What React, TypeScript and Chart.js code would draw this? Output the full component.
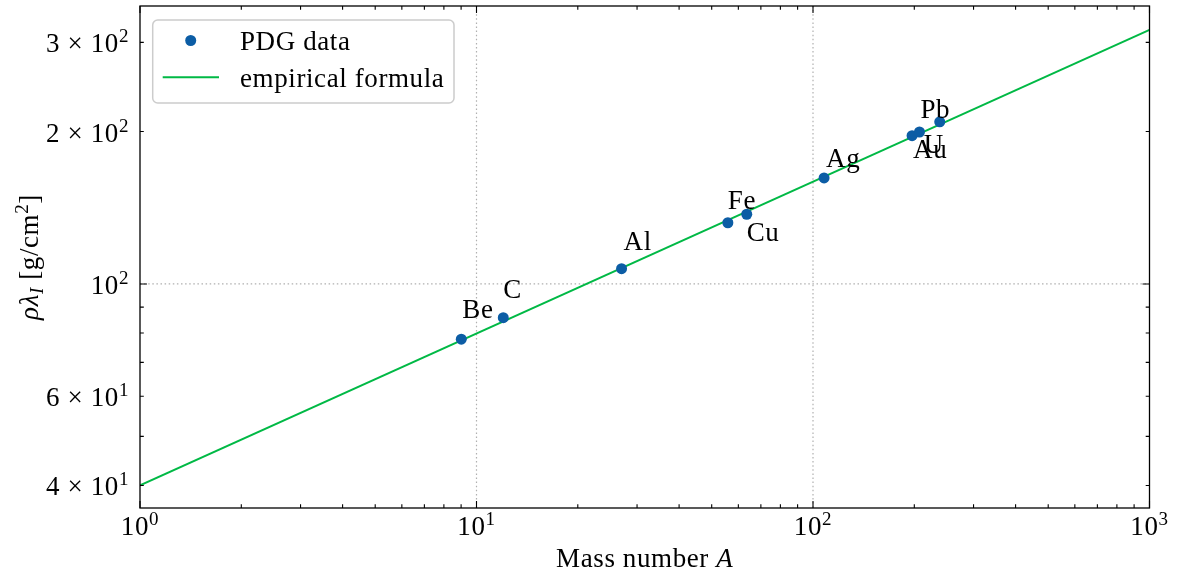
import React, { useEffect, useRef } from 'react';
import { Chart, registerables } from 'chart.js';

Chart.register(...registerables);

// PDG nuclear interaction lengths
const elements = ['Be', 'C', 'Al', 'Fe', 'Cu', 'Ag', 'Au', 'Pb', 'U'];
const massNumbers = [9.012, 12.011, 26.982, 55.845, 63.546, 107.87, 196.97, 207.2, 238.03];
const interactionLengths = [77.8, 85.8, 107.2, 132.1, 137.3, 162.0, 196.3, 199.6, 209.0];
// label placement relative to each marker (left edge, baseline), px
const labelOffsets: [number, number][] = [
  [1, -21], [0, -20], [2, -19], [0, -14], [0, 27], [2, -11], [1, 22], [1, -14], [-16, 31],
];

// empirical formula line end points
const formulaA = [1, 1000];
const formulaLambda = [40, 317.7];

const xLimits = [1, 1000];
const yLimits = [36.1, 354];

const xTickValues = [1, 10, 100, 1000];
const xTickLabels: [string, string][] = [['10', '0'], ['10', '1'], ['10', '2'], ['10', '3']];
const yTickValues = [40, 60, 100, 200, 300];
const yTickLabels: [string, string][] = [
  ['4 × 10', '1'], ['6 × 10', '1'], ['10', '2'], ['2 × 10', '2'], ['3 × 10', '2'],
];
const xGridValues = [10, 100];
const yGridValues = [100];

const BLUE = '#0C5DA5';
const GREEN = '#00B945';
const FONT = "'Liberation Serif', 'Times New Roman', serif";
const SIZE = 27;
const SUB = 19;
const SPACING = '0.6px';

type Run = { t: string; size: number; italic?: boolean; rise?: number };

function setFont(ctx: CanvasRenderingContext2D, r: Run) {
  ctx.font = `${r.italic ? 'italic ' : ''}${r.size}px ${FONT}`;
}
function runsWidth(ctx: CanvasRenderingContext2D, runs: Run[]) {
  let w = 0;
  for (const r of runs) {
    setFont(ctx, r);
    w += ctx.measureText(r.t).width;
  }
  return w;
}
function drawRuns(ctx: CanvasRenderingContext2D, runs: Run[], x: number, y: number) {
  let cx = x;
  ctx.textBaseline = 'alphabetic';
  ctx.textAlign = 'left';
  for (const r of runs) {
    setFont(ctx, r);
    ctx.fillText(r.t, cx, y - (r.rise || 0));
    cx += ctx.measureText(r.t).width;
  }
}
function powerRuns(label: [string, string]): Run[] {
  return [
    { t: label[0], size: SIZE },
    { t: label[1], size: SUB, rise: 10 },
  ];
}

function minorValues(lo: number, hi: number) {
  const out: number[] = [];
  for (let e = Math.floor(Math.log10(lo)); e <= Math.ceil(Math.log10(hi)); e++) {
    for (let m = 1; m < 10; m++) {
      const v = m * Math.pow(10, e);
      if (v >= lo && v <= hi) out.push(v);
    }
  }
  return out;
}

const axesPlugin = {
  id: 'scienceAxes',
  beforeDatasetsDraw(chart: any) {
    const { ctx, chartArea: a, scales } = chart;
    ctx.save();
    ctx.strokeStyle = '#b0b0b0';
    ctx.lineWidth = 1.2;
    ctx.setLineDash([1.5, 2.6]);
    for (const v of xGridValues) {
      const x = scales.x.getPixelForValue(v);
      ctx.beginPath();
      ctx.moveTo(x, a.top);
      ctx.lineTo(x, a.bottom);
      ctx.stroke();
    }
    for (const v of yGridValues) {
      const y = scales.y.getPixelForValue(v);
      ctx.beginPath();
      ctx.moveTo(a.left, y);
      ctx.lineTo(a.right, y);
      ctx.stroke();
    }
    ctx.restore();
  },
  afterDatasetsDraw(chart: any) {
    const { ctx, chartArea: a, scales } = chart;
    const xs = scales.x;
    const ys = scales.y;
    ctx.save();
    (ctx as any).letterSpacing = SPACING;
    ctx.fillStyle = '#000';

    // element labels
    ctx.font = `${SIZE}px ${FONT}`;
    ctx.textBaseline = 'alphabetic';
    ctx.textAlign = 'left';
    elements.forEach((name, i) => {
      const px = xs.getPixelForValue(massNumbers[i]);
      const py = ys.getPixelForValue(interactionLengths[i]);
      ctx.fillText(name, px + labelOffsets[i][0], py + labelOffsets[i][1]);
    });

    // frame
    ctx.strokeStyle = '#000';
    ctx.lineWidth = 1.3;
    ctx.strokeRect(a.left, a.top, a.right - a.left, a.bottom - a.top);

    // inward ticks on all four sides
    const MAJ = 7;
    const MIN = 3.8;
    ctx.lineWidth = 1.1;
    const xMaj = xTickValues;
    for (const v of minorValues(xLimits[0], xLimits[1])) {
      const isMaj = xMaj.includes(v);
      const len = isMaj ? MAJ : MIN;
      const x = xs.getPixelForValue(v);
      ctx.beginPath();
      ctx.moveTo(x, a.bottom);
      ctx.lineTo(x, a.bottom - len);
      ctx.moveTo(x, a.top);
      ctx.lineTo(x, a.top + len);
      ctx.stroke();
    }
    for (const v of minorValues(yLimits[0], yLimits[1])) {
      const isMaj = Math.abs(Math.log10(v) - Math.round(Math.log10(v))) < 1e-9;
      const len = isMaj ? MAJ : MIN;
      const y = ys.getPixelForValue(v);
      ctx.beginPath();
      ctx.moveTo(a.left, y);
      ctx.lineTo(a.left + len, y);
      ctx.moveTo(a.right, y);
      ctx.lineTo(a.right - len, y);
      ctx.stroke();
    }

    // tick labels
    xTickValues.forEach((v, i) => {
      const runs = powerRuns(xTickLabels[i]);
      const w = runsWidth(ctx, runs);
      const x = xs.getPixelForValue(v);
      drawRuns(ctx, runs, x - w / 2, a.bottom + 27);
    });
    yTickValues.forEach((v, i) => {
      const runs = powerRuns(yTickLabels[i]);
      const w = runsWidth(ctx, runs);
      const y = ys.getPixelForValue(v);
      drawRuns(ctx, runs, a.left - 11 - w, y + 10);
    });

    // axis titles
    const xTitle: Run[] = [
      { t: 'Mass number ', size: SIZE },
      { t: 'A', size: SIZE, italic: true },
    ];
    const xw = runsWidth(ctx, xTitle);
    drawRuns(ctx, xTitle, (a.left + a.right) / 2 - xw / 2, 566.5);

    const yTitle: Run[] = [
      { t: 'ρλ', size: SIZE, italic: true },
      { t: 'I', size: SUB, italic: true, rise: -5 },
      { t: ' [g/cm', size: SIZE },
      { t: '2', size: SUB, rise: 10 },
      { t: ']', size: SIZE },
    ];
    const yw = runsWidth(ctx, yTitle);
    ctx.save();
    ctx.translate(38, (a.top + a.bottom) / 2);
    ctx.rotate(-Math.PI / 2);
    drawRuns(ctx, yTitle, -yw / 2, 0);
    ctx.restore();

    // legend
    const ds = chart.data.datasets;
    const bx = 152.7, by = 20, bw = 301.3, bh = 83, r = 5;
    ctx.beginPath();
    ctx.moveTo(bx + r, by);
    ctx.arcTo(bx + bw, by, bx + bw, by + bh, r);
    ctx.arcTo(bx + bw, by + bh, bx, by + bh, r);
    ctx.arcTo(bx, by + bh, bx, by, r);
    ctx.arcTo(bx, by, bx + bw, by, r);
    ctx.closePath();
    ctx.fillStyle = 'rgba(255,255,255,0.8)';
    ctx.fill();
    ctx.strokeStyle = '#cccccc';
    ctx.lineWidth = 1.5;
    ctx.stroke();

    ctx.fillStyle = BLUE;
    ctx.beginPath();
    ctx.arc(190.7, 40.5, 5.5, 0, Math.PI * 2);
    ctx.fill();
    ctx.strokeStyle = GREEN;
    ctx.lineWidth = 2;
    ctx.beginPath();
    ctx.moveTo(162.7, 77.3);
    ctx.lineTo(219, 77.3);
    ctx.stroke();

    ctx.fillStyle = '#000';
    ctx.font = `${SIZE}px ${FONT}`;
    ctx.textBaseline = 'alphabetic';
    ctx.textAlign = 'left';
    ctx.fillText(ds[0].label, 240, 50);
    ctx.fillText(ds[1].label, 240, 86.5);
    ctx.restore();
  },
};

export default function App() {
  const canvasRef = useRef<HTMLCanvasElement | null>(null);

  useEffect(() => {
    const canvas = canvasRef.current;
    if (!canvas) return;
    const chart = new Chart(canvas, {
      type: 'scatter',
      data: {
        datasets: [
          {
            label: 'PDG data',
            data: massNumbers.map((a, i) => ({ x: a, y: interactionLengths[i] })),
            backgroundColor: BLUE,
            borderColor: BLUE,
            pointRadius: 5.5,
            pointBorderWidth: 0,
            showLine: false,
          },
          {
            label: 'empirical formula',
            data: formulaA.map((a, i) => ({ x: a, y: formulaLambda[i] })),
            borderColor: GREEN,
            backgroundColor: GREEN,
            borderWidth: 2,
            pointRadius: 0,
            showLine: true,
          },
        ],
      },
      options: {
        responsive: false,
        animation: false,
        devicePixelRatio: 1,
        layout: { padding: { left: 140, right: 29.5, top: 6, bottom: 66 } },
        scales: {
          x: { type: 'logarithmic', min: xLimits[0], max: xLimits[1], display: false },
          y: { type: 'logarithmic', min: yLimits[0], max: yLimits[1], display: false },
        },
        plugins: {
          legend: { display: false },
          tooltip: { enabled: false },
        },
      },
      plugins: [axesPlugin],
    });
    return () => chart.destroy();
  }, []);

  return (
    <div style={{ position: 'fixed', left: 0, top: 0, width: 1179, height: 574, background: '#fff' }}>
      <canvas ref={canvasRef} width={1179} height={574} style={{ display: 'block' }} />
    </div>
  );
}
